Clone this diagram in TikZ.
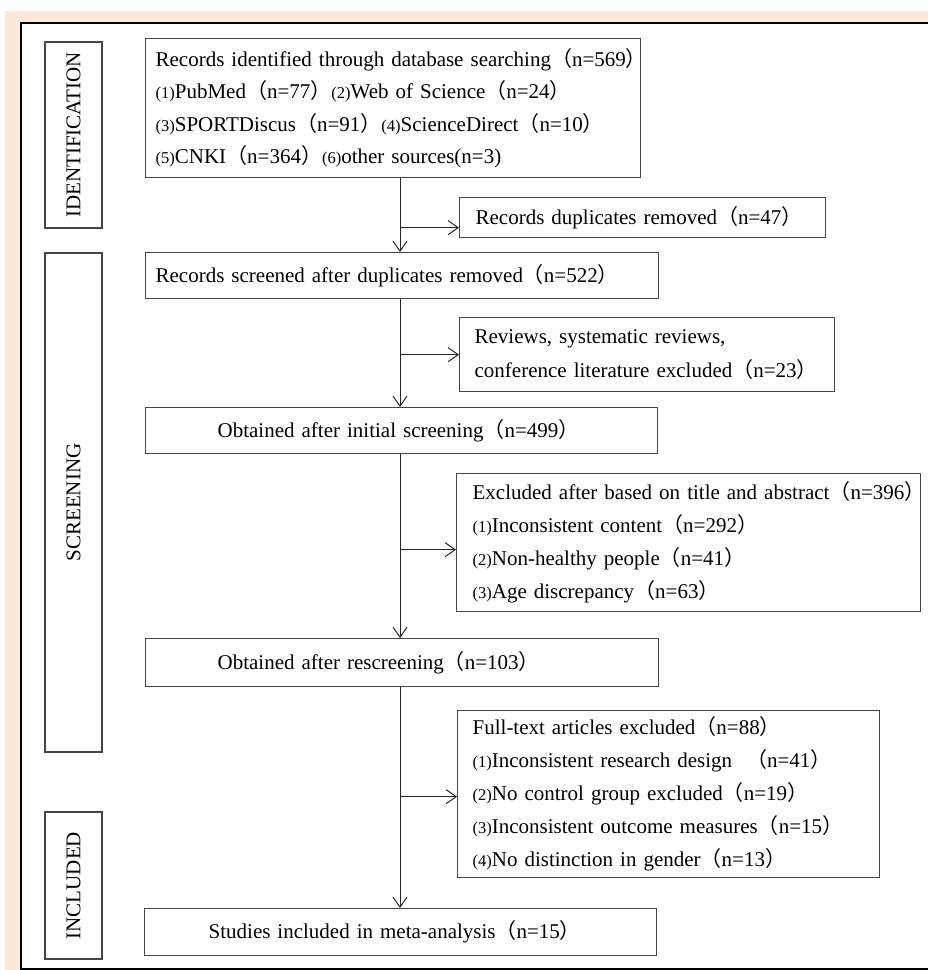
\documentclass[tikz,border=0pt]{standalone}
\usepackage{fontspec}
\setmainfont{Liberation Serif}
\newfontfamily\cjk{Noto Sans CJK SC}
\usetikzlibrary{arrows.meta}
\newcommand\myl{{\cjk （}}
\newcommand\myr{{\cjk ）}}
\newcommand\pn[1]{{\fontsize{16.5}{16}\selectfont(#1)}}
\newcommand\myline[1]{\mbox{#1}}
\definecolor{beige}{HTML}{FCE9DC}
\definecolor{boxline}{HTML}{454545}
\begin{document}
\begin{tikzpicture}[x=1pt,y=-1pt,
  box/.style={draw=boxline, line width=1.3pt, align=left, anchor=north west, inner ysep=0pt, font=\fontsize{21}{32.5}\selectfont},
  lab/.style={draw=boxline, line width=1.3pt, rotate=90, inner sep=0pt, minimum height=57pt, font=\fontsize{21}{24}\selectfont},
  arr/.style={draw=black!85, line width=1pt, -{Straight Barb[length=10pt,width=14pt]}}]
\useasboundingbox (0,0) rectangle (928,970);
\fill[beige] (5,11) rectangle (928,970);
\fill[white] (20.5,23) rectangle (928,969);
\draw[line width=2pt] (928,23) -- (20.5,23) -- (20.5,969) -- (928,969);

% phase labels
\node[lab, minimum width=186pt] (idl) at (73.5,135) {IDENTIFICATION};
\node[lab, minimum width=499pt] (scl) at (73.5,502.5) {SCREENING};
\node[lab, minimum width=147pt] (inl) at (73.5,885.5) {INCLUDED};

% main column
\node[box, text width=475pt, inner xsep=10pt, minimum height=139pt] (rid) at (145,38)
 {\myline{Records identified through database searching\myl n=569\myr}\\
  \myline{\pn{1}PubMed\myl n=77\myr\pn{2}Web of Science\myl n=24\myr}\\
  \myline{\pn{3}SPORTDiscus\myl n=91\myr\pn{4}ScienceDirect\myl n=10\myr}\\
  \myline{\pn{5}CNKI\myl n=364\myr\pn{6}other sources(n=3)}};
\node[box, text width=493pt, inner xsep=10pt, minimum height=46pt] (rs) at (145,252)
 {\myline{Records screened after duplicates removed\myl n=522\myr}};
\node[box, text width=368pt, inner xsep=72pt, minimum height=46pt] (oi) at (145,407)
 {\myline{Obtained after initial screening\myl n=499\myr}};
\node[box, text width=369pt, inner xsep=72pt, minimum height=48pt] (ors) at (145,638)
 {\myline{Obtained after rescreening\myl n=103\myr}};
\node[box, text width=384pt, inner xsep=64pt, minimum height=47pt] (st) at (144,908)
 {\myline{Studies included in meta-analysis\myl n=15\myr}};

% exclusion boxes
\node[box, text width=334pt, inner xsep=16pt, minimum height=40pt] (dup) at (459,197)
 {\myline{Records duplicates removed\myl n=47\myr}};
\node[box, text width=345pt, inner xsep=15pt, minimum height=74pt, font=\fontsize{21}{34}\selectfont] (rev) at (459,317)
 {\myline{Reviews, systematic reviews,}\\
  \myline{conference literature excluded\myl n=23\myr}};
\node[box, text width=432pt, inner xsep=16pt, minimum height=138pt, font=\fontsize{21}{33}\selectfont] (exc) at (456,473)
 {\myline{Excluded after based on title and abstract\myl n=396\myr}\\
  \myline{\pn{1}Inconsistent content\myl n=292\myr}\\
  \myline{\pn{2}Non-healthy people\myl n=41\myr}\\
  \myline{\pn{3}Age discrepancy\myl n=63\myr}};
\node[box, text width=392pt, inner xsep=15pt, minimum height=167pt, font=\fontsize{21}{33}\selectfont] (ft) at (457,710)
 {\myline{Full-text articles excluded\myl n=88\myr}\\
  \myline{\pn{1}Inconsistent research design\ \ \myl n=41\myr}\\
  \myline{\pn{2}No control group excluded\myl n=19\myr}\\
  \myline{\pn{3}Inconsistent outcome measures\myl n=15\myr}\\
  \myline{\pn{4}No distinction in gender\myl n=13\myr}};

% spine and connectors
\coordinate (sp) at (400,0);
\coordinate (dupa) at ([yshift=-10pt]dup.west);
\coordinate (exca) at ([yshift=-7pt]exc.west);
\coordinate (fta) at ([yshift=-2.5pt]ft.west);
\draw[arr] (rid.south -| sp) -- (rs.north -| sp);
\draw[arr] (sp |- dupa) -- (dupa);
\draw[arr] (rs.south -| sp) -- (oi.north -| sp);
\draw[arr] (sp |- rev.west) -- (rev.west);
\draw[arr] (oi.south -| sp) -- (ors.north -| sp);
\draw[arr] (sp |- exca) -- (exca);
\draw[arr] (ors.south -| sp) -- (st.north -| sp);
\draw[arr] (sp |- fta) -- (fta);
\end{tikzpicture}
\end{document}
